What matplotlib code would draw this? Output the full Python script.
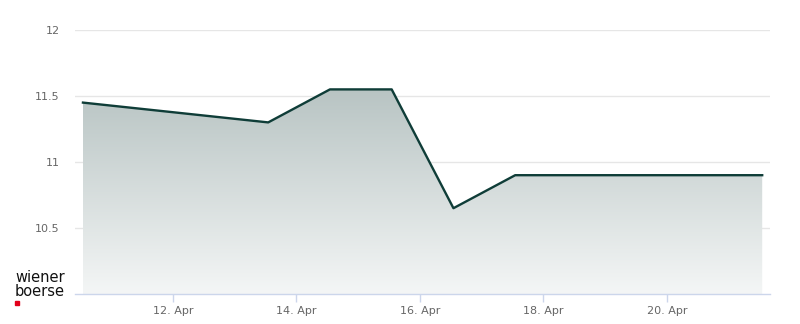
import numpy as np
import pandas as pd
import matplotlib
matplotlib.use('Agg')
import matplotlib.pyplot as plt
import matplotlib.dates as mdates
from matplotlib.colors import LinearSegmentedColormap

# price data
dates = pd.to_datetime(['2024-04-10 13:00', '2024-04-13 13:00', '2024-04-14 13:00',
                        '2024-04-15 13:00', '2024-04-16 13:00', '2024-04-17 13:00',
                        '2024-04-21 13:00'])
prices = [11.45, 11.30, 11.55, 11.55, 10.65, 10.90, 10.90]
y_ticks = [10.5, 11, 11.5, 12]
y_tick_labels = ['10.5', '11', '11.5', '12']

line_color = '#0f3d38'
grid_color = '#e6e6e6'
axis_color = '#ccd6eb'

fig = plt.figure(figsize=(8, 3.24), dpi=100)
ax = fig.add_axes([75 / 800, 30 / 324, 695 / 800, 264 / 324])

x = mdates.date2num(dates)
day_px = 61.75
x0 = mdates.date2num(pd.Timestamp('2024-04-12')) - 98 / day_px
x1 = mdates.date2num(pd.Timestamp('2024-04-12')) + 597 / day_px
ax.set_xlim(x0, x1)
ax.set_ylim(10, 12)

# gradient fill under the line
cmap = LinearSegmentedColormap.from_list('fill', ['#f4f6f6', '#b8c4c3'])
grad = np.linspace(0, 1, 256).reshape(-1, 1)
top = max(prices)
im = ax.imshow(grad, extent=[x[0], x[-1], 10, top], origin='lower', aspect='auto',
               cmap=cmap, zorder=1)
clip = plt.Polygon(np.vstack([np.column_stack([x, prices]), [[x[-1], 10], [x[0], 10]]]),
                   transform=ax.transData, facecolor='none', edgecolor='none')
ax.add_patch(clip)
im.set_clip_path(clip)

ax.plot(x, prices, color=line_color, lw=1.7, zorder=3)

ax.set_yticks(y_ticks)
ax.set_yticklabels(y_tick_labels)
ax.yaxis.grid(True, color=grid_color, lw=1)
ax.set_axisbelow(True)
ax.tick_params(axis='y', length=0, pad=11, labelsize=8, labelcolor='#666666')

ax.xaxis.set_major_locator(mdates.DayLocator(bymonthday=[12, 14, 16, 18, 20]))
ax.xaxis.set_major_formatter(mdates.DateFormatter('%d. %b'))
ax.tick_params(axis='x', length=6, width=1, color=axis_color, pad=3,
               labelsize=8, labelcolor='#666666')

for side in ['top', 'right', 'left']:
    ax.spines[side].set_visible(False)
ax.spines['bottom'].set_color(axis_color)
ax.spines['bottom'].set_linewidth(1)

# logo
fig.text(15 / 800, 1 - 277 / 324, 'wiener', fontsize=10.5, color='#111111', va='center')
fig.text(15 / 800, 1 - 292 / 324, 'boerse', fontsize=10.5, color='#111111', va='center')
fig.patches.append(plt.Rectangle((15 / 800, 1 - 305 / 324), 4 / 800, 4 / 324,
                                 transform=fig.transFigure, color='#e2001a', figure=fig))

fig.savefig('out.png', dpi=100)
